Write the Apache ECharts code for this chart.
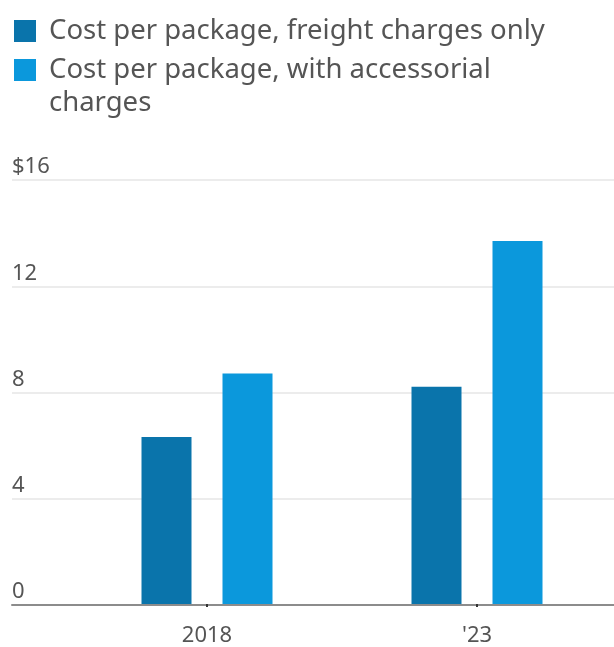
<!DOCTYPE html>
<html>
<head>
<meta charset="utf-8">
<script src="https://cdn.jsdelivr.net/npm/echarts@6/dist/echarts.min.js"></script>
<style>
  html, body { margin: 0; padding: 0; background: #fff; }
  #chart { width: 614px; height: 647px; }
</style>
</head>
<body>
<div id="chart"></div>
<script>
const years = ['2018', "'23"];
const freightOnly = [6.3, 8.2];
const withAccessorial = [8.7, 13.7];
const seriesNames = ['Cost per package, freight charges only', 'Cost per package, with accessorial charges'];
// how each legend entry wraps
const legendLines = [
  ['Cost per package, freight charges only'],
  ['Cost per package, with accessorial', 'charges']
];
const yTicks = { min: 0, max: 16, interval: 4 };

const colors = ['#0a74ab', '#0b98dc'];
const font = 'Noto Sans';

let chart = echarts.init(document.getElementById('chart'));

let option = {
  animation: false,
  color: colors,
  legend: {
    orient: 'vertical',
    left: 14,
    top: 17,
    padding: 0,
    itemWidth: 22,
    itemHeight: 22,
    itemGap: -22,
    icon: 'rect',
    data: seriesNames,
    formatter: (name) => {
      let lines = legendLines[seriesNames.indexOf(name)];
      let out = lines.map((l) => '{a|' + l + '}');
      // pad a blank line on top so the square lines up with the first line
      if (lines.length > 1) out.unshift('{e| }');
      return out.join('\n');
    },
    textStyle: {
      padding: [0, 0, 0, 8],
      rich: {
        a: { fontFamily: font, fontSize: 27.5, lineHeight: 33, color: '#555' },
        e: { fontFamily: font, fontSize: 27.5, lineHeight: 33 }
      }
    }
  },
  grid: [
    { left: 12, right: 0, top: 180, bottom: 42 },
    { left: 72, right: 2, top: 180, bottom: 42 }
  ],
  xAxis: [
    {
      gridIndex: 0,
      type: 'category',
      data: years,
      axisLine: { show: true, lineStyle: { color: '#8c8c8c', width: 2 } },
      axisTick: { show: false },
      axisLabel: { show: false }
    },
    {
      gridIndex: 1,
      type: 'category',
      data: years,
      axisLine: { show: false },
      axisTick: { show: true, alignWithLabel: true, length: 3, lineStyle: { color: '#333', width: 2 } },
      axisLabel: { margin: 21, fontFamily: font, fontSize: 22, color: '#555' }
    }
  ],
  yAxis: [
    {
      gridIndex: 0,
      type: 'value',
      min: yTicks.min,
      max: yTicks.max,
      interval: yTicks.interval,
      axisLine: { show: false },
      axisTick: { show: false },
      splitLine: { lineStyle: { color: '#ececec', width: 2 } },
      axisLabel: {
        inside: true,
        margin: 0,
        verticalAlign: 'bottom',
        padding: [0, 0, 2, 0],
        fontFamily: font,
        fontSize: 22,
        color: '#555',
        formatter: (v) => (v === yTicks.max ? '$' + v : String(v))
      }
    },
    {
      gridIndex: 1,
      type: 'value',
      min: yTicks.min,
      max: yTicks.max,
      interval: yTicks.interval,
      show: false,
      splitLine: { show: false }
    }
  ],
  series: [
    {
      name: seriesNames[0],
      type: 'bar',
      xAxisIndex: 1,
      yAxisIndex: 1,
      barWidth: 50,
      barGap: '62%',
      data: freightOnly
    },
    {
      name: seriesNames[1],
      type: 'bar',
      xAxisIndex: 1,
      yAxisIndex: 1,
      barWidth: 50,
      barGap: '62%',
      data: withAccessorial
    }
  ]
};

option && chart.setOption(option);
</script>
</body>
</html>
